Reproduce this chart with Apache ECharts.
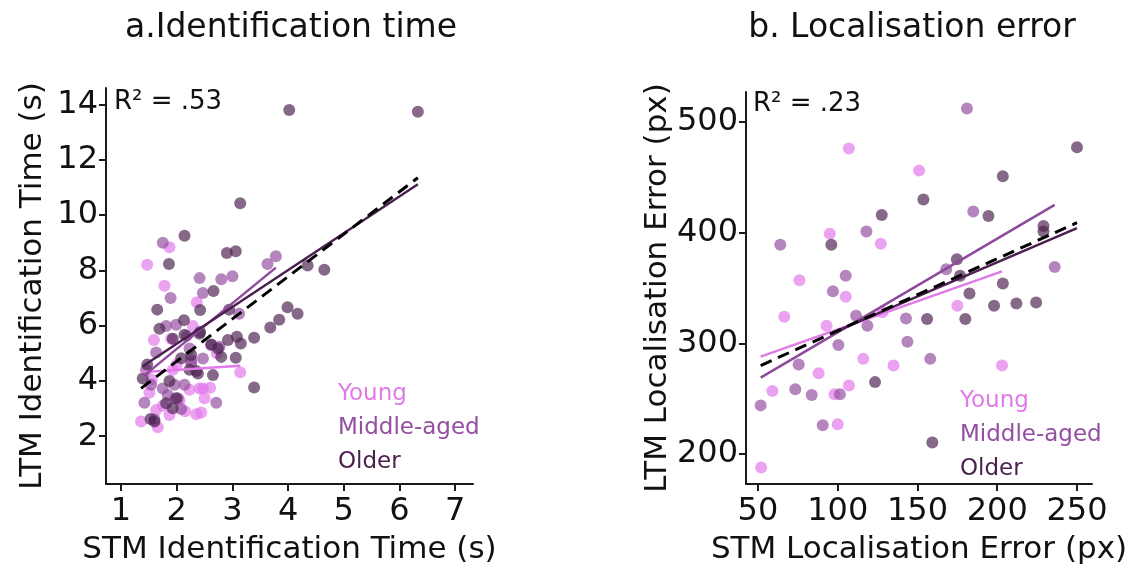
<!DOCTYPE html>
<html>
<head>
<meta charset="utf-8">
<script src="https://cdn.jsdelivr.net/npm/echarts@6/dist/echarts.min.js"></script>
<style>
  html, body { margin: 0; padding: 0; background: #ffffff; }
  #chart { width: 1137px; height: 570px; }
</style>
</head>
<body>
<div id="chart"></div>
<script>
// ---- a. Identification time: [STM (s), LTM (s)] per participant ----
const idYoung = [
  [1.87, 8.84], [1.47, 8.20], [1.78, 7.44], [2.36, 6.85], [1.59, 5.48], [1.90, 5.53],
  [2.29, 5.99], [2.72, 5.00], [3.14, 4.31], [1.51, 3.57], [2.23, 3.68], [2.41, 3.73],
  [2.50, 3.37], [1.63, 2.95], [2.44, 2.86], [2.35, 2.79], [1.87, 2.77], [1.36, 2.53],
  [1.66, 2.32], [1.93, 4.40], [2.47, 3.73], [1.55, 4.05], [2.05, 3.30], [2.60, 3.75],
  [1.75, 3.10], [2.00, 4.60], [2.15, 2.90]
];
const idMiddle = [
  [1.75, 9.00], [3.78, 8.51], [3.63, 8.23], [2.41, 7.72], [2.80, 7.68], [3.00, 7.79],
  [2.47, 7.18], [1.89, 7.00], [3.12, 6.43], [1.81, 5.99], [1.99, 6.03], [2.18, 5.63],
  [1.63, 5.03], [2.62, 5.30], [2.77, 5.24], [2.26, 4.63], [1.54, 3.86], [1.75, 3.73],
  [1.96, 3.86], [2.14, 3.86], [1.84, 3.49], [2.02, 3.37], [1.42, 3.21], [2.08, 2.98],
  [2.71, 3.21], [2.23, 5.17], [2.26, 4.75], [2.47, 4.81], [1.60, 2.60], [1.45, 4.40]
];
const idOlder = [
  [4.02, 13.80], [6.33, 13.74], [3.14, 10.43], [2.14, 9.25], [2.90, 8.63], [3.06, 8.69],
  [4.35, 8.18], [4.65, 8.02], [1.86, 8.23], [2.66, 7.25], [1.65, 6.58], [2.42, 6.57],
  [2.94, 6.58], [3.99, 6.67], [4.17, 6.43], [3.84, 6.21], [3.68, 5.93], [1.69, 5.89],
  [2.13, 6.20], [1.93, 5.53], [2.92, 5.48], [3.08, 5.60], [3.15, 5.35], [3.39, 5.56],
  [2.42, 5.77], [2.80, 4.87], [3.06, 4.84], [2.26, 4.94], [2.08, 4.82], [1.47, 4.59],
  [2.38, 4.27], [2.65, 4.21], [1.39, 4.09], [1.87, 4.00], [3.39, 3.76], [1.81, 3.19],
  [1.93, 3.01], [1.53, 2.62], [1.60, 2.53], [2.14, 5.67], [2.41, 5.71], [2.62, 5.32],
  [2.74, 5.17], [2.23, 4.40], [2.35, 4.36], [1.99, 3.37]
];
// fitted lines, start and end points
const idFitYoung  = [[1.36, 4.31], [3.14, 4.55]];
const idFitMiddle = [[1.42, 4.20], [3.78, 8.10]];
const idFitOlder  = [[1.39, 4.53], [6.33, 11.12]];
const idFitAll    = [[1.36, 3.73], [6.33, 11.35]];
const idTicksX = [1, 2, 3, 4, 5, 6, 7];
const idTicksY = [2, 4, 6, 8, 10, 12, 14];
const idR2 = 'R² = .53';

// ---- b. Localisation error: [STM (px), LTM (px)] per participant ----
const locYoung = [
  [107, 476], [151, 456], [95, 399], [127, 390], [76, 357], [105, 342], [66.5, 324],
  [93, 316], [128, 328], [116, 286], [135, 280], [88, 273], [59, 257], [98, 254],
  [107, 262], [100, 227], [52, 188], [175, 334], [203, 280]
];
const locMiddle = [
  [181, 512], [118, 401], [64, 389], [105, 361], [97, 347], [111.5, 325], [118.6, 316],
  [142.8, 322.5], [143.7, 301.5], [100.4, 298.5], [75.5, 281], [73.4, 258.6], [83.7, 253.4],
  [101.4, 254], [51.7, 244], [90.6, 226], [185, 419], [168, 367], [236, 369], [158, 286]
];
const locOlder = [
  [250, 477], [203.5, 451], [153.7, 430], [127.6, 416], [96, 389], [194.5, 415],
  [229, 406], [229, 401], [174.7, 376], [176.7, 361], [203.5, 354], [182.6, 345],
  [198, 334], [212, 336], [224.4, 337], [156, 322], [180, 322], [123.4, 265], [159.3, 210.5]
];
const locFitYoung  = [[51.7, 288], [203, 365]];
const locFitMiddle = [[51.7, 269], [236, 425]];
const locFitOlder  = [[96, 309], [250, 404]];
const locFitAll    = [[51.7, 280], [250, 409]];
const locTicksX = [50, 100, 150, 200, 250];
const locTicksY = [200, 300, 400, 500];
const locR2 = 'R² = .23';

const groupNames = ['Young', 'Middle-aged', 'Older'];
const pointColors = ['rgba(226,118,234,0.85)', 'rgba(146,78,160,0.85)', 'rgba(78,34,80,0.85)'];
const lineColors = ['#e07ae6', '#8e4a9b', '#4b2050'];
const labelColors = ['#e07ae8', '#944fa2', '#4a1f4d'];

const FONT = 'DejaVu Sans';
const INK = '#111111';

function valueAxis(gridIndex, min, max, ticks, name, nameGap, labelMargin) {
  return {
    type: 'value', gridIndex, min, max,
    name, nameLocation: 'middle', nameGap,
    nameTextStyle: { fontFamily: FONT, fontSize: 31, color: INK },
    axisLine: { show: true, onZero: false, lineStyle: { color: '#1a1a1a', width: 2 } },
    axisTick: { show: true, length: 7, customValues: ticks, lineStyle: { color: '#1a1a1a', width: 2 } },
    axisLabel: { customValues: ticks, fontFamily: FONT, fontSize: 32, color: INK, margin: labelMargin },
    splitLine: { show: false }
  };
}

function scatter(name, data, i, gridIdx) {
  return {
    type: 'scatter', name, data, xAxisIndex: gridIdx, yAxisIndex: gridIdx,
    symbolSize: 12, itemStyle: { color: pointColors[i] }, z: 2, silent: true
  };
}
function fit(data, color, gridIdx, dashed) {
  return {
    type: 'line', data, xAxisIndex: gridIdx, yAxisIndex: gridIdx, symbol: 'none',
    lineStyle: dashed ? { color: '#000', width: 3, type: [12, 7] } : { color, width: 2.5 },
    z: dashed ? 5 : 4, silent: true
  };
}
function legendFor(left, top) {
  return {
    orient: 'vertical', left, top, icon: 'none', itemWidth: 0, itemHeight: 23, itemGap: 11,
    selectedMode: false,
    textStyle: { fontFamily: FONT, fontSize: 23 },
    data: groupNames.map((n, i) => ({ name: n, textStyle: { color: labelColors[i] } }))
  };
}

const chart = echarts.init(document.getElementById('chart'), null, { renderer: 'canvas' });
chart.setOption({
  animation: false,
  backgroundColor: '#ffffff',
  title: [
    { text: 'a.Identification time', left: 286, top: 7, textAlign: 'center',
      textStyle: { fontFamily: FONT, fontSize: 33, fontWeight: 'normal', color: INK } },
    { text: 'b. Localisation error', left: 907, top: 7, textAlign: 'center',
      textStyle: { fontFamily: FONT, fontSize: 33, fontWeight: 'normal', color: INK } }
  ],
  grid: [
    { left: 106, top: 88, width: 367, height: 398 },
    { left: 746, top: 92, width: 346, height: 393 }
  ],
  xAxis: [
    valueAxis(0, 0.73, 7.32, idTicksX, 'STM Identification Time (s)', 50, 12),
    valueAxis(1, 42.5, 259.4, locTicksX, 'STM Localisation Error (px)', 50, 12)
  ],
  yAxis: [
    valueAxis(0, 0.27, 14.6, idTicksY, 'LTM Identification Time (s)', 58, 8),
    valueAxis(1, 173, 527, locTicksY, 'LTM Localisation Error (px)', 70, 8)
  ],
  legend: [legendFor(328, 378), legendFor(950, 385)],
  graphic: [
    { type: 'text', left: 114, top: 89, style: { text: idR2, font: '26px "DejaVu Sans"', fill: INK } },
    { type: 'text', left: 753, top: 91, style: { text: locR2, font: '26px "DejaVu Sans"', fill: INK } }
  ],
  series: [
    scatter('Young', idYoung, 0, 0),
    scatter('Middle-aged', idMiddle, 1, 0),
    scatter('Older', idOlder, 2, 0),
    fit(idFitYoung, lineColors[0], 0),
    fit(idFitMiddle, lineColors[1], 0),
    fit(idFitOlder, lineColors[2], 0),
    fit(idFitAll, '#000', 0, true),
    scatter('Young', locYoung, 0, 1),
    scatter('Middle-aged', locMiddle, 1, 1),
    scatter('Older', locOlder, 2, 1),
    fit(locFitYoung, lineColors[0], 1),
    fit(locFitMiddle, lineColors[1], 1),
    fit(locFitOlder, lineColors[2], 1),
    fit(locFitAll, '#000', 1, true)
  ]
});
</script>
</body>
</html>
